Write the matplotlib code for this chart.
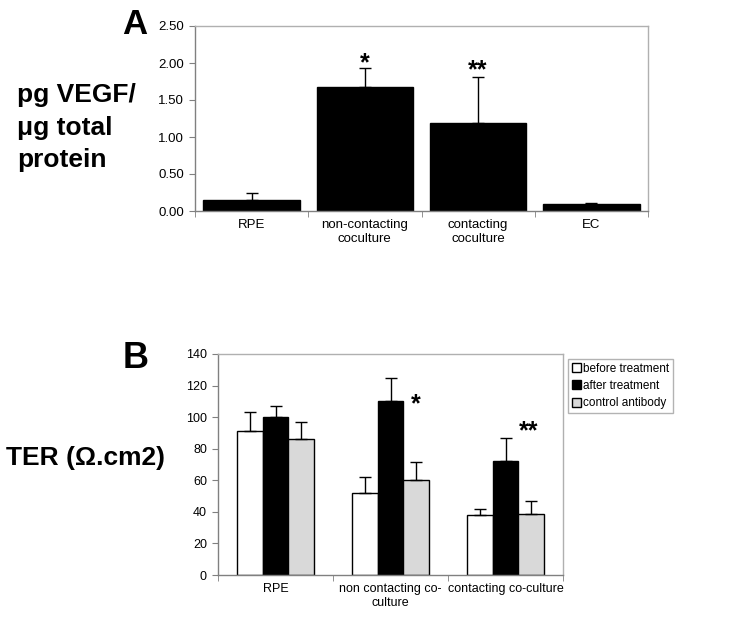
import numpy as np
import matplotlib
matplotlib.use("Agg")
import matplotlib.pyplot as plt

plt.rcParams["font.family"] = ["Liberation Sans", "DejaVu Sans"]

# --- Panel A data ---
a_categories = ["RPE", "non-contacting\ncoculture", "contacting\ncoculture", "EC"]
a_values = [0.15, 1.67, 1.19, 0.10]
a_errors = [0.10, 0.26, 0.62, 0.01]
a_ticks = [0.0, 0.5, 1.0, 1.5, 2.0, 2.5]

# --- Panel B data ---
b_categories = ["RPE", "non contacting co-\nculture", "contacting co-culture"]
b_series = ["before treatment", "after treatment", "control antibody"]
b_before = [91.5, 52, 38]
b_after = [100, 110, 72]
b_control = [86, 60, 38.5]
b_before_err = [11.5, 10, 4]
b_after_err = [7, 15, 15]
b_control_err = [11, 11.5, 8.5]
b_ticks = [0, 20, 40, 60, 80, 100, 120, 140]

W, H = 729, 618
fig = plt.figure(figsize=(W / 100, H / 100), dpi=100)


def style_axes(ax, ncat):
    for side in ["top", "right"]:
        ax.spines[side].set_color("#b0b0b0")
    for side in ["left", "bottom"]:
        ax.spines[side].set_color("#808080")
    for s in ax.spines.values():
        s.set_linewidth(1.0)
    ax.set_xlim(-0.5, ncat - 0.5)
    ax.set_xticks(np.arange(ncat))
    ax.tick_params(axis="x", which="major", length=0, pad=6)
    ax.set_xticks(np.arange(ncat + 1) - 0.5, minor=True)
    ax.tick_params(axis="x", which="minor", length=4, color="#808080", direction="out")
    ax.tick_params(axis="y", length=4, color="#808080", direction="out", pad=4)


# ---------------- Panel A ----------------
axA = fig.add_axes([195 / W, 1 - 211 / H, (648 - 195) / W, (211 - 26) / H])
xa = np.arange(len(a_categories))
axA.bar(xa, a_values, width=0.85, color="black", edgecolor="black",
        yerr=[np.zeros(len(a_errors)), a_errors], capsize=4,
        error_kw=dict(ecolor="black", elinewidth=1, capthick=1))
style_axes(axA, len(a_categories))
axA.set_ylim(0, 2.5)
axA.set_yticks(a_ticks)
axA.set_yticklabels([f"{t:.2f}" for t in a_ticks], fontsize=9.5)
axA.set_xticklabels(a_categories, fontsize=9.5)
axA.text(1, 2.0, "*", ha="center", va="center", fontsize=18, fontweight="bold")
axA.text(2, 1.9, "**", ha="center", va="center", fontsize=18, fontweight="bold")

fig.text(122 / W, 1 - 34 / H, "A", fontsize=25, fontweight="bold", ha="left", va="baseline")
fig.text(17 / W, 1 - 102 / H, "pg VEGF/", fontsize=19, fontweight="bold", ha="left", va="baseline")
fig.text(17 / W, 1 - 135 / H, "\u03bcg total", fontsize=19, fontweight="bold", ha="left", va="baseline")
fig.text(17 / W, 1 - 167 / H, "protein", fontsize=19, fontweight="bold", ha="left", va="baseline")

# ---------------- Panel B ----------------
axB = fig.add_axes([218 / W, 1 - 575 / H, (563 - 218) / W, (575 - 354) / H])
xb = np.arange(len(b_categories))
bw = 0.223
colors = ["white", "black", "#d9d9d9"]
vals = [b_before, b_after, b_control]
errs = [b_before_err, b_after_err, b_control_err]
for k in range(3):
    axB.bar(xb + (k - 1) * bw, vals[k], width=bw, color=colors[k], edgecolor="black",
            linewidth=1, label=b_series[k],
            yerr=[np.zeros(len(errs[k])), errs[k]], capsize=4,
            error_kw=dict(ecolor="black", elinewidth=1, capthick=1))
style_axes(axB, len(b_categories))
axB.set_ylim(0, 140)
axB.set_yticks(b_ticks)
axB.set_yticklabels([str(t) for t in b_ticks], fontsize=9)
axB.set_xticklabels(b_categories, fontsize=9)
axB.text(1.22, 108, "*", ha="center", va="center", fontsize=18, fontweight="bold")
axB.text(2.2, 91, "**", ha="center", va="center", fontsize=18, fontweight="bold")

leg = fig.legend(loc="upper left", bbox_to_anchor=(568 / W, 1 - 359 / H),
                 fontsize=8.5, frameon=True, fancybox=False, edgecolor="#a0a0a0",
                 handlelength=0.8, handleheight=0.8, handletextpad=0.2,
                 borderpad=0.3, labelspacing=0.45, borderaxespad=0)
leg.get_frame().set_linewidth(1.0)

fig.text(123 / W, 1 - 368 / H, "B", fontsize=26, fontweight="bold", ha="left", va="baseline")
fig.text(6 / W, 1 - 465 / H, "TER (\u03a9.cm2)", fontsize=19, fontweight="bold", ha="left", va="baseline")

fig.savefig("out.png", dpi=100)
